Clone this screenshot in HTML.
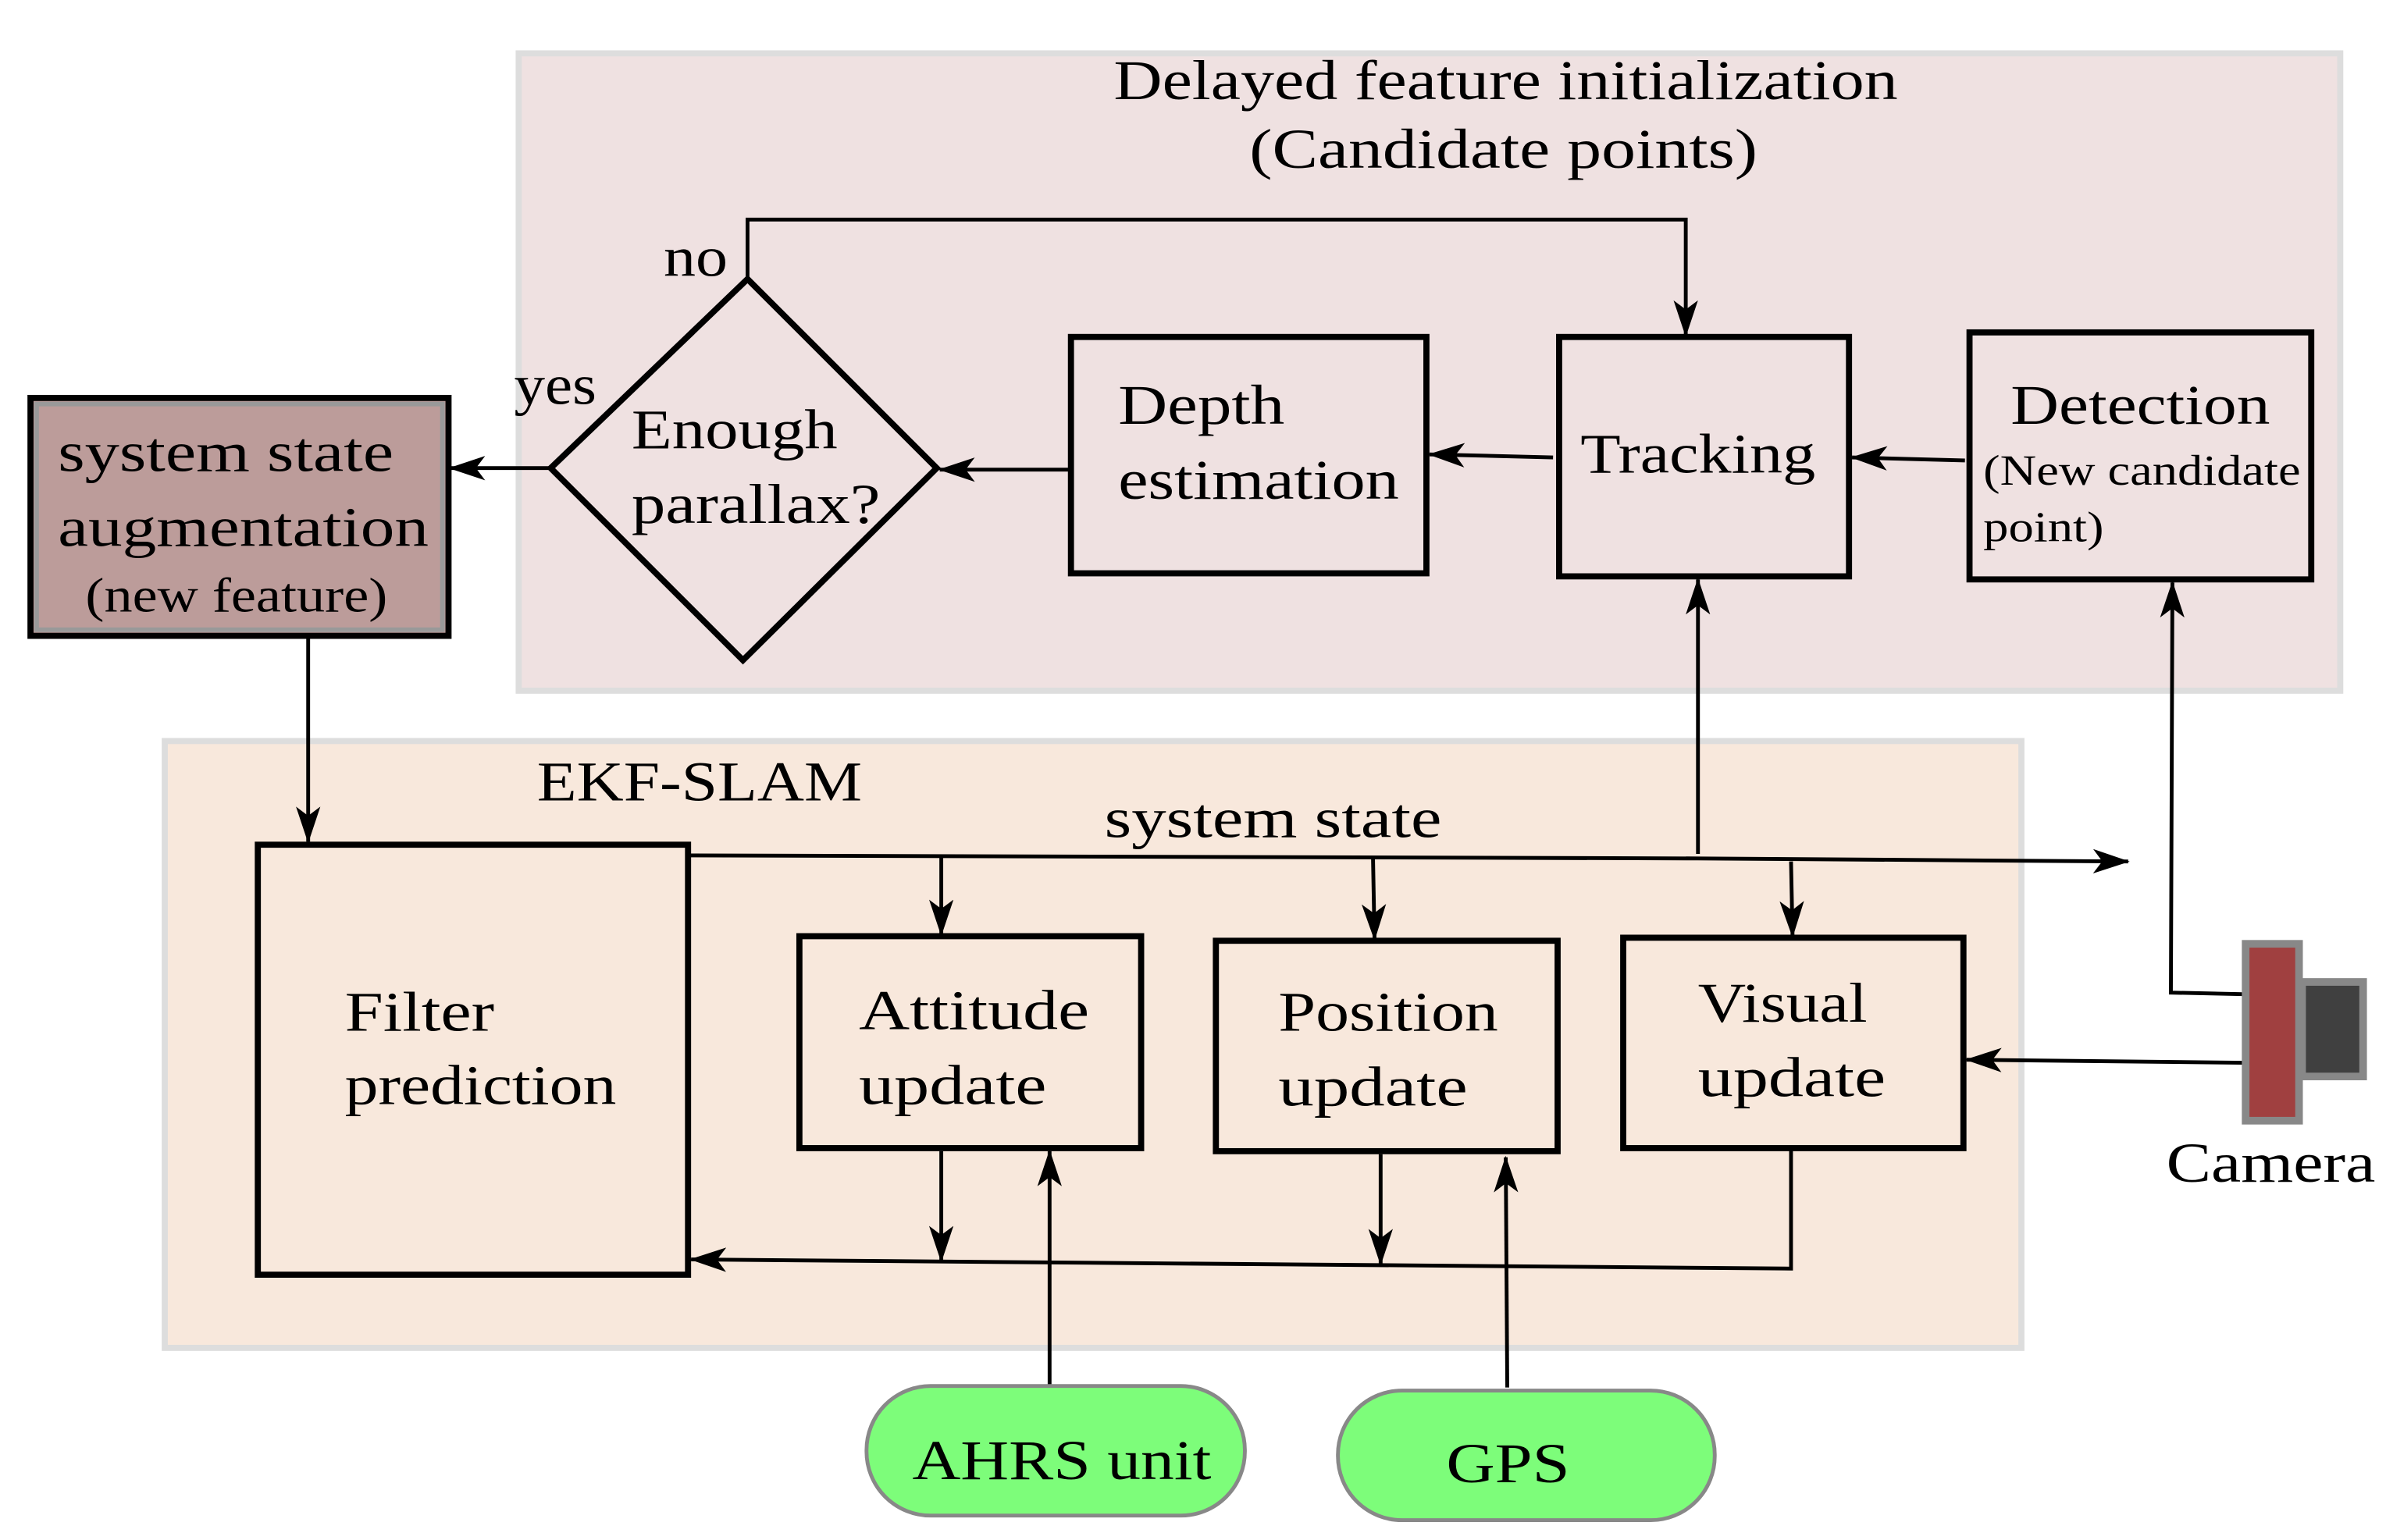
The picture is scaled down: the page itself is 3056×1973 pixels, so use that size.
<!DOCTYPE html>
<html><head><meta charset="utf-8"><style>html,body{margin:0;padding:0;background:#fff}svg{display:block}text{font-family:"Liberation Serif",serif;fill:#000}</style></head>
<body>
<svg width="3056" height="1973" viewBox="0 0 1564 1010" preserveAspectRatio="none" xmlns="http://www.w3.org/2000/svg">
<defs>
<marker id="a" viewBox="0 0 24 16" refX="23" refY="8" markerWidth="24" markerHeight="16" markerUnits="userSpaceOnUse" orient="auto">
<path d="M0,0 L24,8 L0,16 L6,8 Z" fill="#000"/></marker>
</defs>
<rect x="340" y="35" width="1194" height="418" fill="#efe1e1" stroke="#dddddd" stroke-width="4"/>
<rect x="108" y="486" width="1217" height="398" fill="#f8e8dc" stroke="#dddddd" stroke-width="4"/>
<g font-size="37" lengthAdjust="spacingAndGlyphs">
<text x="730" y="65" textLength="514" lengthAdjust="spacingAndGlyphs">Delayed feature initialization</text>
<text x="819" y="110" textLength="333" lengthAdjust="spacingAndGlyphs">(Candidate points)</text>
<text x="352" y="525" textLength="213" lengthAdjust="spacingAndGlyphs">EKF-SLAM</text>
</g>
<g stroke="#000" stroke-width="4" fill="none">
<rect x="20" y="261" width="274" height="156" fill="#bc9c9a"/>
<rect x="24" y="265" width="266" height="148" fill="none" stroke="#999" stroke-width="3"/>
<polygon points="361,307 490,183 614,307 487,433"/>
<rect x="702" y="221" width="233" height="155"/>
<rect x="1022" y="221" width="190" height="157"/>
<rect x="1291" y="218" width="224" height="162"/>
<rect x="169" y="554" width="282" height="282"/>
<rect x="524" y="614" width="224" height="139"/>
<rect x="797" y="617" width="224" height="138"/>
<rect x="1064" y="615" width="223" height="138"/>
</g>
<g stroke="#000" stroke-width="2.5" fill="none" marker-end="url(#a)">
<polyline points="490,183 490,144 1105,144 1105,220"/>
<line x1="702" y1="308" x2="616" y2="308"/>
<line x1="1018" y1="300" x2="937" y2="298"/>
<line x1="1288" y1="302" x2="1214" y2="300"/>
<line x1="361" y1="307" x2="295" y2="307"/>
<line x1="202" y1="418" x2="202" y2="552"/>
<polyline points="451,561 1113,563 1395,565"/>
<line x1="617" y1="562" x2="617" y2="613"/>
<line x1="900" y1="563" x2="901" y2="616"/>
<line x1="1174" y1="565" x2="1175" y2="614"/>
<line x1="1113" y1="560" x2="1113" y2="380"/>
<polyline points="1470,652 1423,651 1424,382"/>
<line x1="1470" y1="697" x2="1289" y2="695"/>
<polyline points="1174,753 1174,832 453,826"/>
<line x1="617" y1="755" x2="617" y2="827"/>
<line x1="905" y1="757" x2="905" y2="829"/>
<line x1="688" y1="910" x2="688" y2="755"/>
<line x1="988" y1="910" x2="987" y2="759"/>
</g>
<rect x="1472" y="619" width="35" height="116" fill="#a04040" stroke="#888" stroke-width="5"/>
<rect x="1509" y="644" width="40" height="62" fill="#404040" stroke="#888" stroke-width="5"/>
<rect x="568" y="909" width="248" height="85" rx="42" fill="#7dfd7a" stroke="#888" stroke-width="2.5"/>
<rect x="877" y="912" width="247" height="85" rx="42" fill="#7dfd7a" stroke="#888" stroke-width="2.5"/>
<g font-size="37">
<text x="38" y="309" textLength="220" lengthAdjust="spacingAndGlyphs">system state</text>
<text x="38" y="358" textLength="243" lengthAdjust="spacingAndGlyphs">augmentation</text>
<text x="414" y="294" textLength="135" lengthAdjust="spacingAndGlyphs">Enough</text>
<text x="414" y="343" textLength="163" lengthAdjust="spacingAndGlyphs">parallax?</text>
<text x="435" y="181" textLength="42" lengthAdjust="spacingAndGlyphs">no</text>
<text x="337" y="265" textLength="54" lengthAdjust="spacingAndGlyphs">yes</text>
<text x="733" y="278" textLength="109" lengthAdjust="spacingAndGlyphs">Depth</text>
<text x="733" y="327" textLength="184" lengthAdjust="spacingAndGlyphs">estimation</text>
<text x="1036" y="310" textLength="154" lengthAdjust="spacingAndGlyphs">Tracking</text>
<text x="1318" y="278" textLength="170" lengthAdjust="spacingAndGlyphs">Detection</text>
<text x="226" y="676" textLength="98" lengthAdjust="spacingAndGlyphs">Filter</text>
<text x="226" y="724" textLength="178" lengthAdjust="spacingAndGlyphs">prediction</text>
<text x="563" y="675" textLength="151" lengthAdjust="spacingAndGlyphs">Attitude</text>
<text x="563" y="724" textLength="123" lengthAdjust="spacingAndGlyphs">update</text>
<text x="838" y="676" textLength="144" lengthAdjust="spacingAndGlyphs">Position</text>
<text x="838" y="725" textLength="124" lengthAdjust="spacingAndGlyphs">update</text>
<text x="1113" y="670" textLength="111" lengthAdjust="spacingAndGlyphs">Visual</text>
<text x="1113" y="719" textLength="123" lengthAdjust="spacingAndGlyphs">update</text>
<text x="724" y="549" textLength="221" lengthAdjust="spacingAndGlyphs">system state</text>
<text x="1420" y="775" textLength="137" lengthAdjust="spacingAndGlyphs">Camera</text>
<text x="598" y="970" textLength="196" lengthAdjust="spacingAndGlyphs">AHRS unit</text>
<text x="948" y="972" textLength="81" lengthAdjust="spacingAndGlyphs">GPS</text>
</g>
<g font-size="32"><text x="56" y="401" textLength="198" lengthAdjust="spacingAndGlyphs">(new feature)</text></g>
<g font-size="28">
<text x="1300" y="318" textLength="208" lengthAdjust="spacingAndGlyphs">(New candidate</text>
<text x="1300" y="355" textLength="79" lengthAdjust="spacingAndGlyphs">point)</text>
</g>
</svg>
</body></html>
